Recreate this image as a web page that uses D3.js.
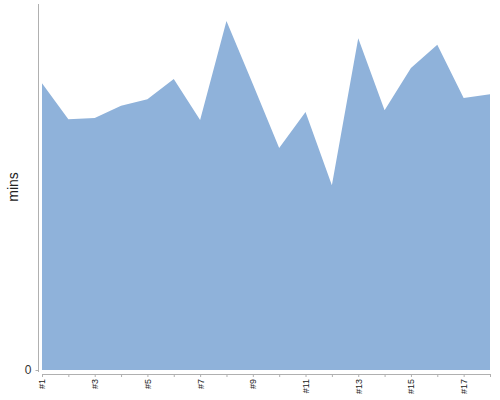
<!DOCTYPE html>
<head>
    <meta charset="utf-8">
    <script src="https://d3js.org/d3.v7.min.js"></script>
    <style>
        body { margin: 0; background: #fff; }
        text { font-family: "Liberation Sans", Arial, sans-serif; }
    </style>
</head>
<body>
    <svg></svg>
    <script>
        // run labels and minutes per run
        var labels = ["#1", "#2", "#3", "#4", "#5", "#6", "#7", "#8", "#9",
                      "#10", "#11", "#12", "#13", "#14", "#15", "#16", "#17", "#18"];
        var mins = [47.0, 41.1, 41.3, 43.3, 44.4, 47.7, 41.0, 57.2, 46.9,
                    36.4, 42.3, 30.3, 54.4, 42.6, 49.5, 53.3, 44.6, 45.2];
        var yTicks = [0];

        // plot box (note: "top" is taken by window.top, so use other names)
        var W = 500, H = 400;
        var plotLeft = 42, plotRight = 490, plotTop = 4, plotBottom = 370;

        var svg = d3.select("svg")
            .attr("width", W)
            .attr("height", H);

        var x = d3.scalePoint()
            .domain(labels)
            .range([plotLeft, plotRight]);

        var y = d3.scaleLinear()
            .domain([0, 60])
            .range([plotBottom, plotTop]);

        var area = d3.area()
            .x(function (d, i) { return x(labels[i]); })
            .y0(y(0))
            .y1(function (d) { return y(d); });

        svg.append("path")
            .datum(mins)
            .attr("fill", "#8fb2da")
            .attr("d", area);

        // x axis, ticks every run, label every other
        var xAxis = svg.append("g")
            .attr("transform", "translate(0," + (plotBottom + 4) + ")")
            .call(d3.axisBottom(x).tickSizeInner(3).tickSizeOuter(0)
                .tickFormat(function (d, i) { return i % 2 === 0 ? d : ""; }));
        xAxis.select(".domain").attr("stroke", "#b0b0b0");
        xAxis.selectAll(".tick line").attr("stroke", "#b0b0b0");
        xAxis.selectAll(".tick text")
            .attr("transform", "rotate(-90)")
            .attr("x", -5)
            .attr("y", 0)
            .attr("dy", "0.32em")
            .attr("text-anchor", "end")
            .attr("font-size", 9)
            .attr("fill", "#222");

        // y axis, only zero labelled
        var yAxis = svg.append("g")
            .attr("transform", "translate(38.5,0)")
            .call(d3.axisLeft(y).tickValues(yTicks).tickSizeInner(3).tickSizeOuter(0));
        yAxis.select(".domain")
            .attr("stroke", "#b0b0b0")
            .attr("d", "M0," + plotTop + "V" + (plotBottom + 2));
        yAxis.selectAll(".tick line").attr("stroke", "#b0b0b0");
        yAxis.selectAll(".tick text")
            .attr("font-size", 12)
            .attr("fill", "#333")
            .attr("x", -7);

        svg.append("text")
            .attr("transform", "translate(18," + ((plotTop + plotBottom) / 2) + ") rotate(-90)")
            .attr("text-anchor", "middle")
            .attr("font-size", 14)
            .attr("fill", "#222")
            .text("mins");
    </script>
</body>
